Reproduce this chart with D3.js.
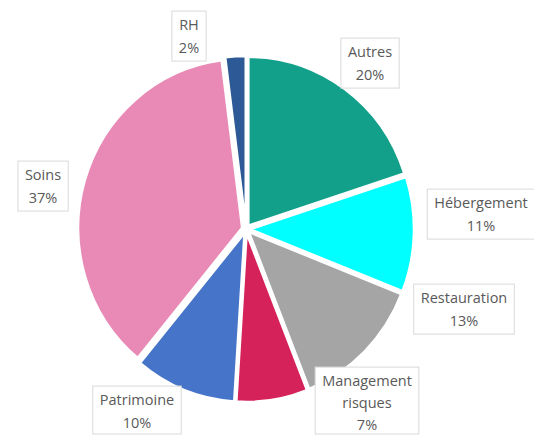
<!DOCTYPE html>
<html>
<head>
<meta charset="utf-8">
<script src="https://cdn.jsdelivr.net/npm/d3@7"></script>
<style>
  body { margin: 0; background: #fff; }
  svg { display: block; }
</style>
</head>
<body>
<div id="chart"></div>
<script>
// donnees
const categories = ["Autres", "Hébergement", "Restauration", "Management risques", "Patrimoine", "Soins", "RH"];
const valeurs = [20, 11, 13, 7, 10, 37, 2];
const couleurs = ["#12a08b", "#00ffff", "#a5a5a5", "#d6225a", "#4674c8", "#e88ab5", "#2d5a96"];

// position des etiquettes (centre du texte)
const etiquettes = {
  "Autres": { x: 370, y: 52, lignes: ["Autres", "20%"] },
  "Hébergement": { x: 481, y: 203, lignes: ["Hébergement", "11%"] },
  "Restauration": { x: 464, y: 298, lignes: ["Restauration", "13%"] },
  "Management risques": { x: 367, y: 381, lignes: ["Management", "risques", "7%"] },
  "Patrimoine": { x: 137, y: 400, lignes: ["Patrimoine", "10%"] },
  "Soins": { x: 43, y: 175, lignes: ["Soins", "37%"] },
  "RH": { x: 189, y: 25, lignes: ["RH", "2%"] }
};

const width = 534, height = 435;
const cx = 246, cy = 229, rayon = 164, ecart = 4;

const svg = d3.select("#chart").append("svg")
  .attr("width", width).attr("height", height);

const data = categories.map((c, i) => ({ cat: c, value: valeurs[i], color: couleurs[i] }));

const pie = d3.pie().value(d => d.value).sort(null);
const arc = d3.arc().innerRadius(0).outerRadius(rayon);

const g = svg.append("g").attr("transform", `translate(${cx},${cy}) scale(1,1.03)`);

g.selectAll("path")
  .data(pie(data))
  .join("path")
  .attr("transform", d => {
    const a = (d.startAngle + d.endAngle) / 2;
    return `translate(${Math.sin(a) * ecart},${-Math.cos(a) * ecart})`;
  })
  .attr("d", arc)
  .attr("fill", d => d.data.color)
  .attr("stroke", "#fff")
  .attr("stroke-width", 2.5)
  .attr("stroke-linejoin", "miter");

// etiquettes avec cadre
const lh = 23;
data.forEach(d => {
  const e = etiquettes[d.cat];
  const lab = svg.append("g");
  const txt = lab.append("text")
    .attr("text-anchor", "middle")
    .style("font-family", "'Open Sans', 'DejaVu Sans', sans-serif")
    .style("font-size", "14.5px")
    .attr("fill", "#595959");
  const pas = e.lignes.length > 2 ? 22 : lh;
  e.lignes.forEach((l, i) => {
    txt.append("tspan").attr("x", e.x).attr("y", e.y + i * pas).attr("dy", "0.35em").text(l);
  });
  const bb = txt.node().getBBox();
  lab.insert("rect", "text")
    .attr("x", bb.x - 7).attr("y", bb.y - 4)
    .attr("width", bb.width + 14).attr("height", Math.min(bb.height + 8, height - 1 - (bb.y - 4)))
    .attr("fill", "#fff")
    .attr("stroke", "#d9d9d9")
    .attr("stroke-width", 1);
});
</script>
</body>
</html>
